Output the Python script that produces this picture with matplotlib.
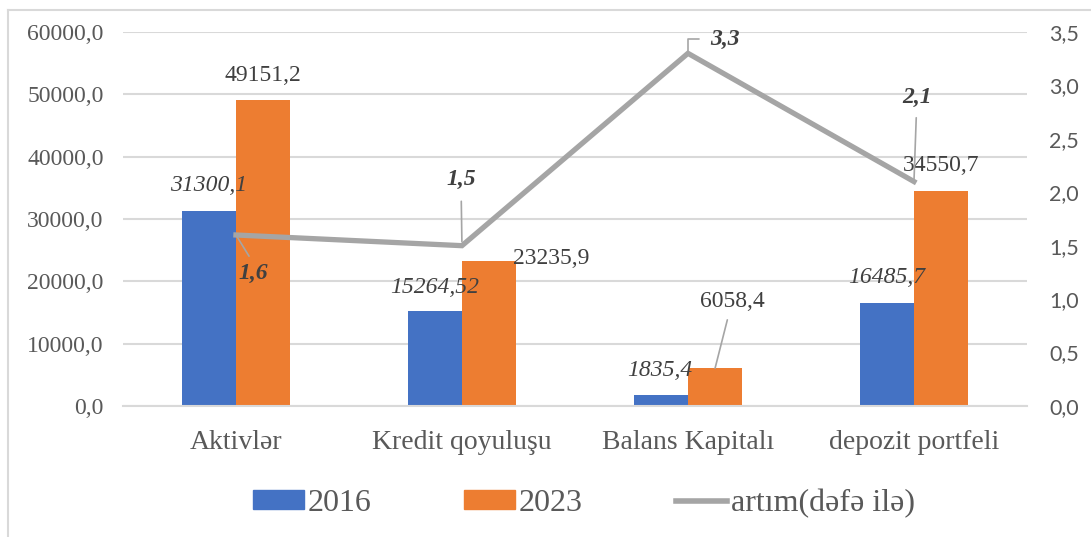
import matplotlib.pyplot as plt
import numpy as np
from matplotlib.lines import Line2D
from matplotlib.patches import Patch

# Data
categories = ['Aktivlər', 'Kredit qoyuluşu', 'Balans Kapitalı', 'depozit portfeli']
values_2016 = [31300.1, 15264.52, 1835.4, 16485.7]
values_2023 = [49151.2, 23235.9, 6058.4, 34550.7]
growth = [1.6, 1.5, 3.3, 2.1]
labels_2016 = ['31300,1', '15264,52', '1835,4', '16485,7']
labels_2023 = ['49151,2', '23235,9', '6058,4', '34550,7']
labels_growth = ['1,6', '1,5', '3,3', '2,1']

blue = '#4472c4'
orange = '#ed7d31'
gray = '#a5a5a5'
txt = '#404040'
tick_col = '#595959'
serif = 'Liberation Serif'

fig = plt.figure(figsize=(10.91, 5.37), dpi=100)
ax = fig.add_axes([0.1127, 0.244, 0.8286, 0.6965])
ax2 = ax.twinx()

x = np.arange(len(categories))
w = 0.24
ax.bar(x - w / 2, values_2016, w, color=blue, zorder=2)
ax.bar(x + w / 2, values_2023, w, color=orange, zorder=2)

ax.set_xlim(-0.5, 3.5)
ax.set_ylim(0, 60000)
ax.set_yticks(np.arange(0, 60001, 10000))
ax.set_yticklabels([f'{v:.1f}'.replace('.', ',') for v in np.arange(0, 60001, 10000)],
                   family=serif, fontsize=17, color=tick_col)
ax.set_xticks(x)
ax.set_xticklabels(categories, family=serif, fontsize=20, color=tick_col)
ax.tick_params(axis='x', length=0, pad=17)
ax.tick_params(axis='y', length=0, pad=14)
ax.grid(axis='y', color='#d9d9d9', lw=1.5, zorder=0)
ax.set_axisbelow(True)
for s in ax.spines.values():
    s.set_visible(False)
ax.spines['bottom'].set_visible(True)
ax.spines['bottom'].set_color('#d9d9d9')
ax.spines['bottom'].set_linewidth(1.5)

# growth line on the secondary axis
ax2.plot(x, growth, color=gray, lw=3.8, solid_joinstyle='miter', zorder=3)
ax2.set_ylim(0, 3.5)
ax2.set_yticks(np.arange(0, 3.51, 0.5))
ax2.set_yticklabels([f'{v:.1f}'.replace('.', ',') for v in np.arange(0, 3.51, 0.5)],
                    family='Lato', fontsize=15.5, color=tick_col)
ax2.tick_params(axis='y', length=0, pad=16)
for s in ax2.spines.values():
    s.set_visible(False)

# bar value labels
offs_2016 = [(0, 25), (0, 23), (-1, 24), (0, 26)]
for i, (v, lab) in enumerate(zip(values_2016, labels_2016)):
    ax.annotate(lab, (x[i] - w / 2, v), xytext=offs_2016[i], textcoords='offset pixels',
                ha='center', va='center', family=serif, style='italic',
                fontsize=17, color=txt, zorder=5)

offs_2023 = [(0, 24), (62, 3), (17, 67), (0, 25)]
for i, (v, lab) in enumerate(zip(values_2023, labels_2023)):
    arrow = None
    if i == 2:
        arrow = dict(arrowstyle='-', color=gray, lw=1.2, shrinkA=4, shrinkB=0)
    ax.annotate(lab, (x[i] + w / 2, v), xytext=offs_2023[i], textcoords='offset pixels',
                ha='center', va='center', family=serif, fontsize=17, color=txt,
                arrowprops=arrow, zorder=5)

# growth labels with leader lines
offs_g = [(17, -38), (-1, 66), (37, 14), (3, 84)]
arrows_g = [
    dict(arrowstyle='-', color=gray, lw=1.2, shrinkA=3, shrinkB=2, relpos=(0.5, 1)),
    dict(arrowstyle='-', color=gray, lw=1.2, shrinkA=6, shrinkB=3),
    dict(arrowstyle='-', color=gray, lw=1.2, shrinkA=6, shrinkB=0, relpos=(0, 0.5),
         connectionstyle='angle,angleA=0,angleB=90,rad=0'),
    dict(arrowstyle='-', color=gray, lw=1.2, shrinkA=5, shrinkB=0),
]
for i, (v, lab) in enumerate(zip(growth, labels_growth)):
    ax2.annotate(lab, (x[i], v), xytext=offs_g[i], textcoords='offset pixels',
                 ha='center', va='center', family=serif, style='italic',
                 weight='bold', fontsize=17, color=txt, arrowprops=arrows_g[i], zorder=6)

handles = [Patch(color=blue, label='2016'),
           Patch(color=orange, label='2023'),
           Line2D([], [], color=gray, lw=4, label='artım(dəfə ilə)')]
leg = fig.legend(handles=handles, loc='center', bbox_to_anchor=(0.535, 0.063), ncol=3,
                 frameon=False, prop=dict(family=serif, size=23), handlelength=1.6,
                 handleheight=0.5, handletextpad=0.12, columnspacing=2.9)
for t in leg.get_texts():
    t.set_color(tick_col)

# outer frame
fig.add_artist(Line2D([8 / 1091, 1], [1 - 10 / 537, 1 - 10 / 537], color='#d9d9d9', lw=1.5,
                      transform=fig.transFigure))
fig.add_artist(Line2D([8 / 1091, 8 / 1091], [0, 1 - 10 / 537], color='#d9d9d9', lw=1.5,
                      transform=fig.transFigure))

fig.savefig('out.png', dpi=100)
